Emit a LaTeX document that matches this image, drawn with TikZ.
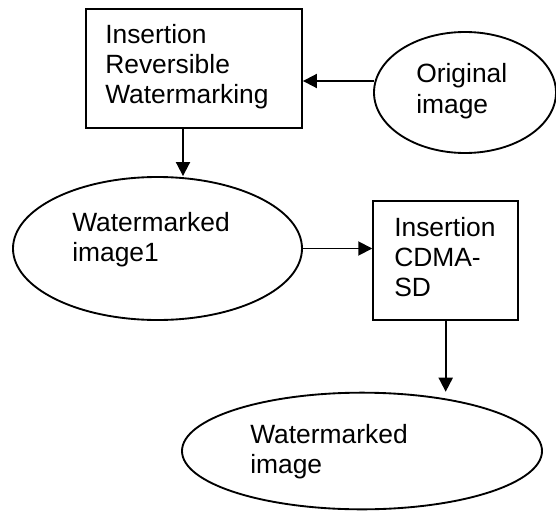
\documentclass[tikz,border=0pt]{standalone}
\usepackage{fontspec}
\setmainfont{Liberation Sans}
\usetikzlibrary{shapes.geometric,arrows.meta}
\begin{document}
\begin{tikzpicture}[x=0.75pt,y=-0.75pt,
  shapeline/.style={draw=black,line width=1.4pt,inner sep=0pt},
  boxnode/.style={shapeline,rectangle},
  ellnode/.style={shapeline,ellipse},
  lbl/.style={align=left,anchor=base west,inner sep=0pt,font=\fontsize{19.8pt}{22.5pt}\selectfont},
  arr/.style={line width=1.4pt,-{Triangle[length=10.5pt,width=10.5pt]}}]
\useasboundingbox (0,0) rectangle (556,510);
% shapes
\node[boxnode,minimum width=162pt,minimum height=89.25pt] (box1) at (194,68.5) {};
\node[ellnode,minimum width=136.5pt,minimum height=90.75pt] (orig) at (465,92.5) {};
\node[ellnode,minimum width=216.75pt,minimum height=107.25pt] (wm1) at (157.5,248.5) {};
\node[boxnode,minimum width=108.75pt,minimum height=89.25pt] (box2) at (445.7,260.5) {};
\node[ellnode,minimum width=270pt,minimum height=87.5pt] (wm) at (362,451) {};
% texts (anchored at the baseline of the last line)
\node[lbl] (t1) at (105,103.5) {Insertion\\Reversible\\Watermarking};
\node[lbl] (t2) at (416,113) {Original\\image};
\node[lbl] (t3) at (72,261) {Watermarked\\image1};
\node[lbl] (t4) at (394,296.7) {Insertion\\CDMA-\\SD};
\node[lbl] (t5) at (250,473.3) {Watermarked\\image};
% connectors
\coordinate (o1) at (374,81);
\draw[arr] (o1) -- (o1 -| box1.east);
\coordinate (d1) at (183,0);
\draw[arr] (box1.south -| d1) -- (wm1.north -| d1);
\draw[arr] (wm1.east) -- (wm1.east -| box2.west);
\draw[arr] (box2.south) -- (box2.south |- wm.north);
\end{tikzpicture}
\end{document}
